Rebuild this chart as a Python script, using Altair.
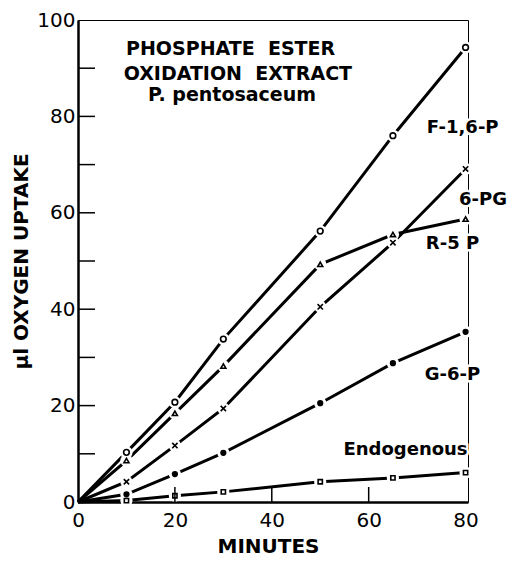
import altair as alt
import pandas as pd

minutes = [0, 10, 20, 30, 50, 65, 80]
series_names = ["F-1,6-P", "6-PG", "R-5 P", "G-6-P", "Endogenous"]
f16p = [0, 10.3, 20.7, 33.8, 56.2, 76.0, 94.3]
pg6 = [0, 4.2, 11.7, 19.4, 40.5, 53.8, 69.1]
r5p = [0, 8.6, 18.4, 28.2, 49.3, 55.5, 58.7]
g6p = [0, 1.6, 5.8, 10.2, 20.5, 28.8, 35.3]
endo = [0, 0.3, 1.3, 2.1, 4.2, 5.0, 6.1]

label_text = ["F-1,6-P", "6-PG", "R-5 P", "G-6-P", "Endogenous"]
label_x = [79.4, 83.6, 77.3, 77.3, 67.6]
label_y = [77.6, 62.7, 53.5, 26.3, 10.8]

title_lines = ["PHOSPHATE\u00a0 ESTER", "OXIDATION\u00a0 EXTRACT", "P. pentosaceum"]
title_x = [31.5, 33.0, 31.8]
title_y = [94.0, 88.9, 84.4]

y_minor_ticks = [10, 20, 30, 40, 50, 60, 70, 80, 90]
x_minor_ticks = [20, 40, 60]

rows = []
for name, vals in zip(series_names, [f16p, pg6, r5p, g6p, endo]):
    for m, v in zip(minutes, vals):
        rows.append({"series": name, "minutes": m, "uptake": v})
df = pd.DataFrame(rows)
pts = df[df["minutes"] > 0]

W, H = 390, 482
FONT = "DejaVu Sans"

xs = alt.Scale(domain=[0, 80.5], nice=False, zero=False)
ys = alt.Scale(domain=[0, 100], nice=False)

xenc = alt.X("minutes:Q", scale=xs, title="MINUTES",
             axis=alt.Axis(values=[0, 20, 40, 60, 80], ticks=False, grid=False,
                           domainColor="black", domainWidth=2.5,
                           labelFont=FONT, labelFontSize=20, labelColor="black",
                           labelPadding=8, labelFlush=False,
                           titleFont=FONT, titleFontSize=20, titleFontWeight="bold",
                           titleColor="black", titlePadding=6, titleX=190))
yenc = alt.Y("uptake:Q", scale=ys, title="µl OXYGEN UPTAKE",
             axis=alt.Axis(values=[0, 20, 40, 60, 80, 100], ticks=False, grid=False,
                           domainColor="black", domainWidth=2.5,
                           labelFont=FONT, labelFontSize=20, labelColor="black",
                           labelPadding=3, labelFlush=False,
                           titleFont=FONT, titleFontSize=20, titleFontWeight="bold",
                           titleColor="black", titlePadding=5))

lines = alt.Chart(df).mark_line(color="black", strokeWidth=3).encode(
    x=xenc, y=yenc, detail="series:N", order="minutes:Q")

halo = alt.Chart(pts).mark_circle(color="white", opacity=1, size=150).encode(
    x=alt.X("minutes:Q", scale=xs), y=alt.Y("uptake:Q", scale=ys))

xpath = "M-1,-1L1,1M-1,1L1,-1"
markers = alt.Chart(pts).mark_point(filled=False, stroke="black", strokeWidth=1.6, opacity=1).encode(
    x=alt.X("minutes:Q", scale=xs), y=alt.Y("uptake:Q", scale=ys),
    shape=alt.Shape("series:N", scale=alt.Scale(domain=series_names,
                    range=["circle", xpath, "triangle-up", "circle", "square"]), legend=None),
    fill=alt.Fill("series:N", scale=alt.Scale(domain=series_names,
                  range=["white", "white", "white", "black", "white"]), legend=None),
    size=alt.Size("series:N", scale=alt.Scale(domain=series_names,
                  range=[32, 18, 40, 60, 28]), legend=None),
)

ytick_df = pd.DataFrame({"v": y_minor_ticks})
yticks = alt.Chart(ytick_df).mark_rule(color="black", strokeWidth=1.5).encode(
    y=alt.Y("v:Q", scale=ys), x=alt.value(0), x2=alt.value(17))

xtick_df = pd.DataFrame({"v": x_minor_ticks})
xticks = alt.Chart(xtick_df).mark_rule(color="black", strokeWidth=1.5).encode(
    x=alt.X("v:Q", scale=xs), y=alt.value(H), y2=alt.value(H - 15))

lab_df = pd.DataFrame({"t": label_text, "x": label_x, "y": label_y})
lab_halo = alt.Chart(lab_df).mark_text(font=FONT, fontSize=18, fontWeight="bold",
                                       color="white", stroke="white", strokeWidth=5,
                                       align="center", baseline="middle").encode(
    x=alt.X("x:Q", scale=xs), y=alt.Y("y:Q", scale=ys), text="t:N")
labs = alt.Chart(lab_df).mark_text(font=FONT, fontSize=18, fontWeight="bold",
                                   color="black", align="center", baseline="middle").encode(
    x=alt.X("x:Q", scale=xs), y=alt.Y("y:Q", scale=ys), text="t:N")

tit_df = pd.DataFrame({"t": title_lines, "x": title_x, "y": title_y})
tits = alt.Chart(tit_df).mark_text(font=FONT, fontSize=19, fontWeight="bold",
                                   color="black", align="center", baseline="middle").encode(
    x=alt.X("x:Q", scale=xs), y=alt.Y("y:Q", scale=ys), text="t:N")

chart = alt.layer(lines, halo, markers, yticks, xticks, lab_halo, labs, tits).properties(
    width=W, height=H,
    autosize=alt.AutoSizeParams(type="none"),
    padding={"left": 70, "top": 12, "right": 41, "bottom": 54},
).configure_view(stroke="black", strokeWidth=1)

chart.save("out.html", embed_options={"renderer": "svg", "actions": False})
